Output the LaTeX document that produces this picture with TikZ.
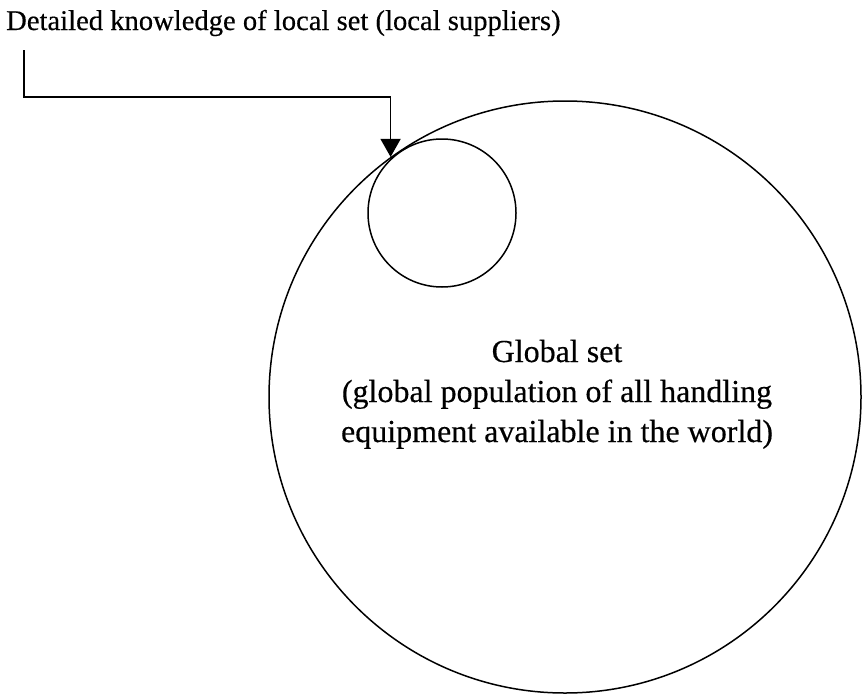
\documentclass[tikz,border=0pt]{standalone}
\usepackage{fontspec}
\setmainfont{Liberation Serif}
\newfontfamily\printfont[FakeBold=0.4]{Liberation Serif}
\usetikzlibrary{arrows.meta}
\begin{document}
\begin{tikzpicture}[x=1pt,y=-1pt,
  setline/.style={draw=black,line width=1.5pt},
  setcircle/.style={circle,setline,inner sep=0pt},
  conn/.style={line width=1.5pt,-{Triangle[length=18pt,width=20pt]}},
  toplabel/.style={inner sep=0pt,anchor=base west,font=\printfont\fontsize{28.6}{34}\selectfont},
  setlabel/.style={inner sep=0pt,anchor=base,font=\printfont\fontsize{32}{40}\selectfont}]
  \useasboundingbox (0,0) rectangle (867,696);

  % outer and inner sets
  \node[setcircle,minimum size=592pt] (big) at (565,397) {};
  \node[setcircle,minimum size=148pt] (small) at (442,213) {};

  % labels
  \node[toplabel] (local) at (6,30) {Detailed knowledge of local set (local suppliers)};
  \node[setlabel] (g1) at (557,362) {Global set};
  \node[setlabel] (g2) at (557,402) {(global population of all handling};
  \node[setlabel] (g3) at (557,442) {equipment available in the world)};

  % pointer from the label to the local set
  \coordinate (start) at (24,50);
  \coordinate (elbow) at (24,97);
  \draw[conn] (start) -- (elbow) -| (big.126.5);
\end{tikzpicture}
\end{document}
